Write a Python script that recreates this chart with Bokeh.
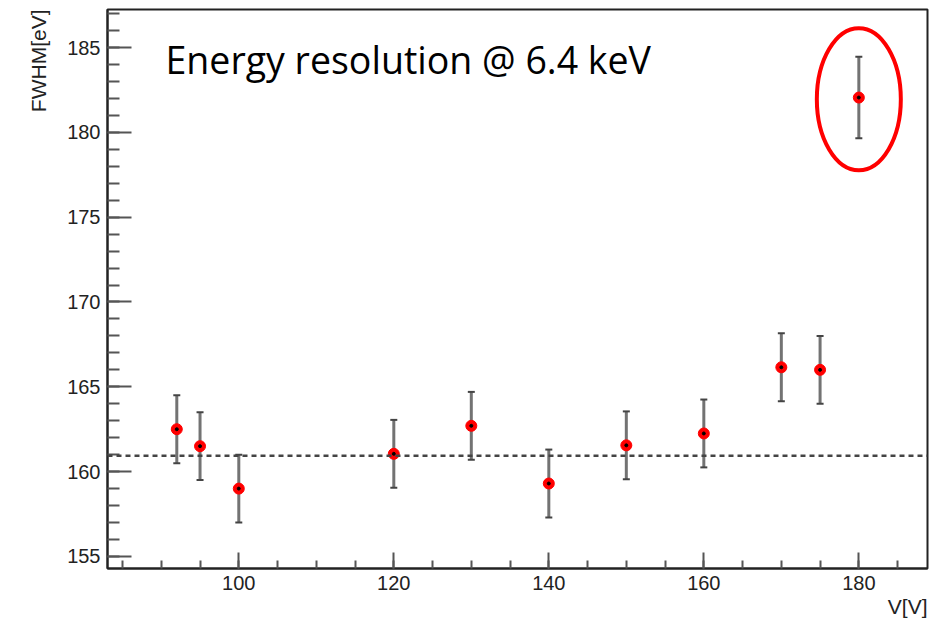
import math
from bokeh.plotting import figure
from bokeh.models import (ColumnDataSource, Whisker, TeeHead, Span, Label, Title,
                          SingleIntervalTicker, Range1d)
from bokeh.embed import file_html
from bokeh.resources import INLINE

# ---- data ----
voltage = [92, 95, 100, 120, 130, 140, 150, 160, 170, 175, 180]
fwhm = [162.5, 161.5, 159.0, 161.05, 162.7, 159.3, 161.55, 162.25, 166.15, 166.0, 182.05]
fwhm_err = [2.0, 2.0, 2.0, 2.0, 2.0, 2.0, 2.0, 2.0, 2.0, 2.0, 2.4]
fit_level = 160.93
title_text = "Energy resolution @ 6.4 keV"
x_title = "V[V]"
y_title = "FWHM[eV]"

src = ColumnDataSource(dict(
    x=voltage, y=fwhm,
    lo=[v - e for v, e in zip(fwhm, fwhm_err)],
    hi=[v + e for v, e in zip(fwhm, fwhm_err)],
))

p = figure(width=932, height=619, output_backend="svg", toolbar_location=None,
           x_range=Range1d(83.06, 188.86), y_range=Range1d(154.29, 187.24))
p.min_border_left = 107
p.min_border_right = 5
p.min_border_top = 9
p.min_border_bottom = 51
p.background_fill_color = "white"
p.border_fill_color = "white"
p.xgrid.visible = False
p.ygrid.visible = False
p.outline_line_color = "#222222"
p.outline_line_width = 2

for ax in (p.xaxis[0], p.yaxis[0]):
    ax.axis_line_color = "#222222"
    ax.axis_line_width = 2
    ax.major_tick_out = 0
    ax.minor_tick_out = 0
    ax.major_tick_line_color = "#555555"
    ax.minor_tick_line_color = "#555555"
    ax.major_tick_line_width = 2
    ax.minor_tick_line_width = 2
    ax.major_label_text_font = "Liberation Sans"
    ax.major_label_text_font_size = "20px"
    ax.major_label_text_color = "#222222"

p.xaxis[0].ticker = SingleIntervalTicker(interval=20, num_minor_ticks=4)
p.xaxis[0].major_tick_in = 16
p.xaxis[0].minor_tick_in = 8
p.xaxis[0].major_label_standoff = 7
p.yaxis[0].ticker = SingleIntervalTicker(interval=5, num_minor_ticks=5)
p.yaxis[0].major_tick_in = 24
p.yaxis[0].minor_tick_in = 12
p.yaxis[0].major_label_standoff = 7

# axis titles (right/top aligned, as in ROOT)
p.add_layout(Title(text=y_title, align="right", text_font="Liberation Sans",
                   text_font_size="21px", text_font_style="normal",
                   text_color="#222222", standoff=29), "left")
p.add_layout(Title(text=x_title, align="right", text_font="Liberation Sans",
                   text_font_size="21px", text_font_style="normal",
                   text_color="#222222", standoff=0), "below")

# fit line
p.add_layout(Span(location=fit_level, dimension="width", line_color="#444444",
                  line_width=2.5, line_dash="5 4"))

# markers
p.scatter("x", "y", source=src, size=11, color="red", line_color="red")

# error bars
p.add_layout(Whisker(source=src, base="x", lower="lo", upper="hi", dimension="height",
                     line_color="#444444", line_alpha=0.75, line_width=3,
                     upper_head=TeeHead(size=7, line_color="#444444", line_width=2),
                     lower_head=TeeHead(size=7, line_color="#444444", line_width=2)))
p.scatter("x", "y", source=src, size=3, color="black")

# highlight ellipse on the last point
p.ellipse(x=[voltage[-1]], y=[fwhm[-1] - 0.1], width=84, height=142,
          width_units="screen", height_units="screen",
          fill_color=None, line_color="red", line_width=4)

# chart note
p.add_layout(Label(x=58, y=509, x_units="screen", y_units="screen", text=title_text,
                   text_font="Open Sans", text_font_size="37.5px", text_color="black",
                   text_baseline="alphabetic", text_align="left"))

open("out.html", "w").write(file_html(p, INLINE))
